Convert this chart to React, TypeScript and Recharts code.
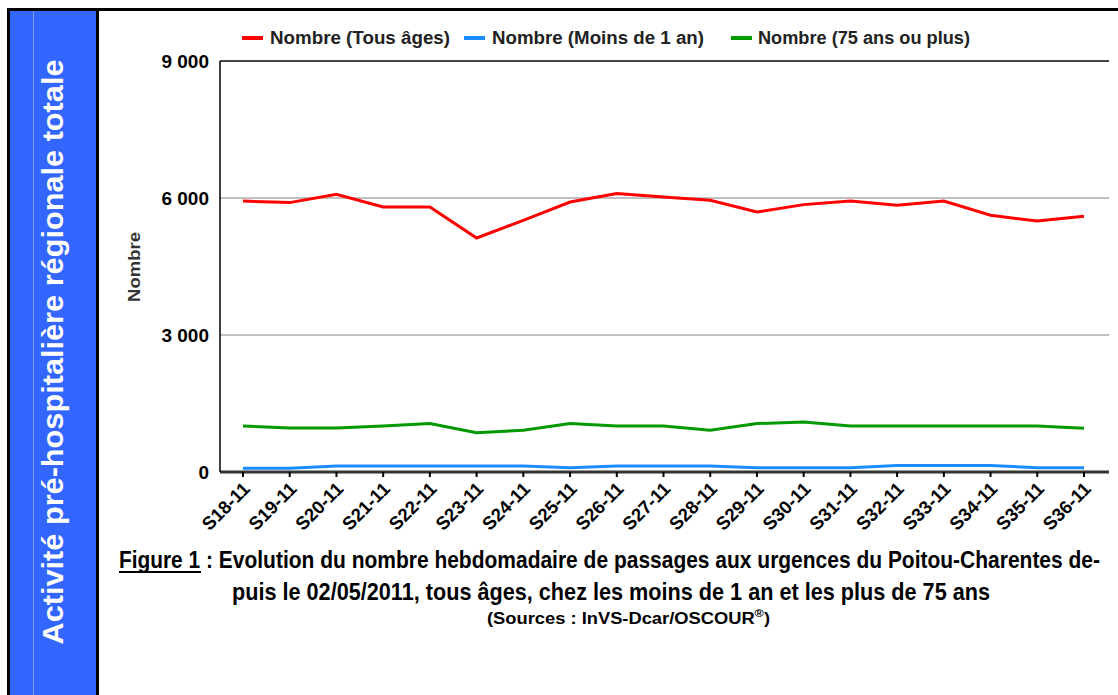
import { LineChart, Line, XAxis, YAxis, CartesianGrid, ReferenceLine } from "recharts";

const semaines = [
  "S18-11", "S19-11", "S20-11", "S21-11", "S22-11", "S23-11", "S24-11", "S25-11", "S26-11", "S27-11",
  "S28-11", "S29-11", "S30-11", "S31-11", "S32-11", "S33-11", "S34-11", "S35-11", "S36-11",
];
const tousAges = [5934, 5899, 6081, 5802, 5802, 5124, 5511, 5912, 6096, 6022, 5949, 5693, 5855, 5934, 5840, 5934, 5621, 5496, 5599];
const moinsUnAn = [80, 80, 130, 130, 130, 130, 130, 95, 130, 130, 130, 95, 95, 95, 140, 140, 140, 95, 95];
const plus75 = [1007, 963, 963, 1007, 1060, 862, 913, 1060, 1007, 1007, 913, 1060, 1095, 1007, 1007, 1007, 1007, 1007, 957];
const yTicks = [0, 3000, 6000, 9000];

const series = [
  { key: "tous", name: "Nombre (Tous âges)", color: "#ff0000" },
  { key: "moins1", name: "Nombre (Moins de 1 an)", color: "#1a8cff" },
  { key: "plus75", name: "Nombre (75 ans ou plus)", color: "#009a00" },
];

const data = semaines.map((s, i) => ({
  semaine: s,
  tous: tousAges[i],
  moins1: moinsUnAn[i],
  plus75: plus75[i],
}));

const FONT = "'Liberation Sans', Arial, sans-serif";

const fmt = (v: number) => String(v).replace(/\B(?=(\d{3})+(?!\d))/g, " ");

// legend placement, matched to the picture
const legendPos = [
  { mark: 242, text: 270, len: 180 },
  { mark: 464, text: 492, len: 212 },
  { mark: 731, text: 758, len: 212 },
];

// caption is a narrow font in the original: squeeze it horizontally
const SQ = 0.85;

function XTick(props: any) {
  const { x, y, payload } = props;
  const ax = x + 8;
  const ay = y + 11;
  return (
    <text x={ax} y={ay} transform={`rotate(-45, ${ax}, ${ay})`} textAnchor="end"
      fontFamily={FONT} fontWeight="bold" fontSize={18.5} fill="#000">
      {payload.value}
    </text>
  );
}

export default function App() {
  return (
    <div style={{ position: "absolute", left: 0, top: 0, width: 1118, height: 695, background: "#fff", overflow: "hidden" }}>
      <svg width={1118} height={695} style={{ position: "absolute", left: 0, top: 0 }}>
        <rect x={7} y={8} width={1111} height={3} fill="#000" />
        <rect x={7} y={8} width={3} height={687} fill="#000" />
        <rect x={10} y={11} width={86} height={684} fill="#3366ff" />
        <rect x={96} y={8} width={3} height={687} fill="#000" />
        <rect x={33} y={11} width={1} height={684} fill="#7f9fff" />
        <text transform="translate(63, 352) rotate(-90)" textAnchor="middle" fontFamily={FONT}
          fontWeight="bold" fontSize={30} fill="#fff" textLength={585} lengthAdjust="spacingAndGlyphs">
          Activité pré-hospitalière régionale totale
        </text>
        <text transform="translate(140, 267) rotate(-90)" textAnchor="middle" fontFamily={FONT}
          fontWeight="bold" fontSize={17} fill="#333" textLength={70} lengthAdjust="spacingAndGlyphs">
          Nombre
        </text>

        {series.map((s, i) => (
          <g key={s.key}>
            <rect x={legendPos[i].mark} y={36} width={21} height={4} fill={s.color} />
            <text x={legendPos[i].text} y={44} fontFamily={FONT} fontWeight="bold" fontSize={18} fill="#222"
              textLength={legendPos[i].len} lengthAdjust="spacingAndGlyphs">
              {s.name}
            </text>
          </g>
        ))}

        <g fontFamily={FONT} fontWeight="bold" fill="#000">
          <g transform={`translate(119, 568) scale(${SQ}, 1)`}>
            <text x={0} y={0} fontSize={23} textLength={81 / SQ} lengthAdjust="spacingAndGlyphs">Figure 1</text>
            <text x={87 / SQ} y={0} fontSize={23} textLength={894 / SQ} lengthAdjust="spacingAndGlyphs">
              : Evolution du nombre hebdomadaire de passages aux urgences du Poitou-Charentes de-
            </text>
          </g>
          <rect x={119} y={571} width={82} height={2} fill="#000" />
          <g transform={`translate(232, 600) scale(${SQ}, 1)`}>
            <text x={0} y={0} fontSize={23} textLength={758 / SQ} lengthAdjust="spacingAndGlyphs">
              puis le 02/05/2011, tous âges, chez les moins de 1 an et les plus de 75 ans
            </text>
          </g>
          <text x={487} y={624} fontSize={16} textLength={283} lengthAdjust="spacingAndGlyphs">
            (Sources : InVS-Dcar/OSCOUR<tspan fontSize={11} dy={-7}>®</tspan><tspan dy={7}>)</tspan>
          </text>
        </g>
      </svg>

      <div style={{ position: "absolute", left: 0, top: 0 }}>
        <LineChart width={1118} height={560} data={data} margin={{ top: 61, right: 9, left: 140, bottom: 18 }}>
          <CartesianGrid horizontal vertical={false} stroke="#c0c0c0" strokeWidth={2} />
          <XAxis dataKey="semaine" interval={0} height={70} padding={{ left: 23, right: 25 }}
            tick={<XTick />} tickSize={5} tickLine={{ stroke: "#000", strokeWidth: 2 }}
            axisLine={{ stroke: "#333", strokeWidth: 3 }} />
          <YAxis width={80} domain={[0, 9000]} ticks={yTicks} tickFormatter={fmt} tickLine={false}
            axisLine={{ stroke: "#000", strokeWidth: 1.5 }} tickMargin={5}
            tick={{ fontFamily: FONT, fontWeight: "bold", fontSize: 19, fill: "#000" }} />
          <ReferenceLine y={9000} stroke="#444" strokeWidth={2} />
          {series.map((s) => (
            <Line key={s.key} type="linear" dataKey={s.key} name={s.name} stroke={s.color}
              strokeWidth={3} dot={false} isAnimationActive={false} />
          ))}
        </LineChart>
      </div>
    </div>
  );
}
